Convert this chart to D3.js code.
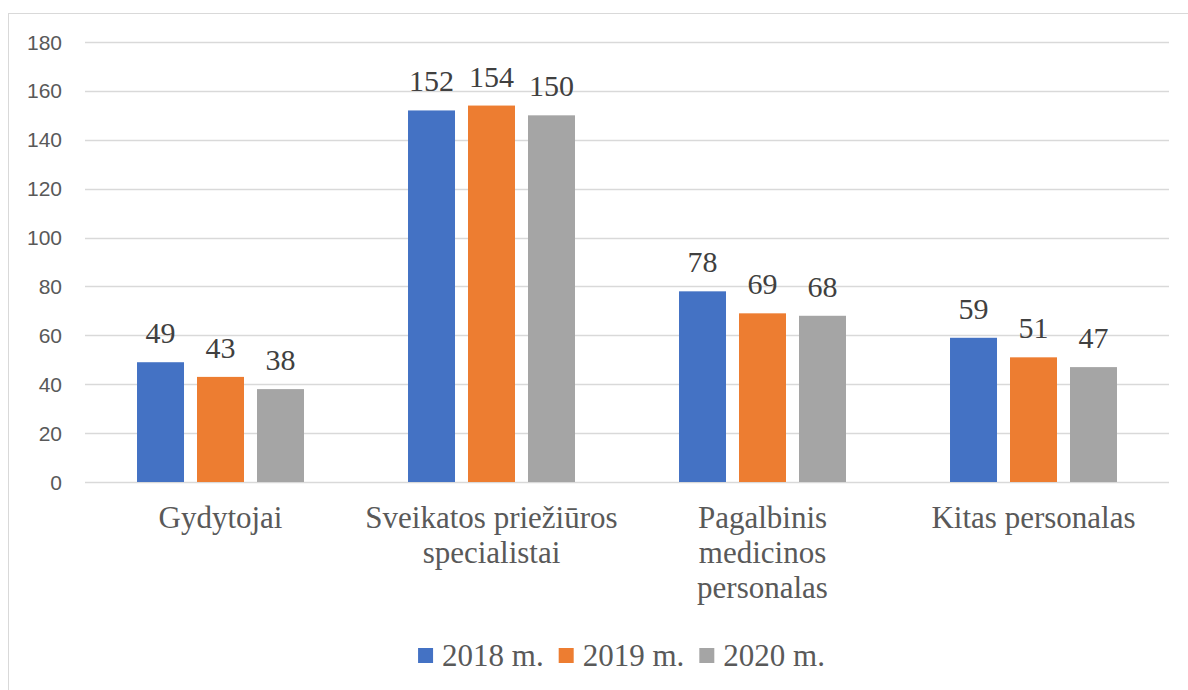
<!DOCTYPE html>
<html>
<head>
<meta charset="utf-8">
<script src="https://cdn.jsdelivr.net/npm/d3@7"></script>
<style>
  body { margin: 0; background: #fff; }
</style>
</head>
<body>
<script>
const categories = ['Gydytojai', 'Sveikatos priežiūros specialistai', 'Pagalbinis medicinos personalas', 'Kitas personalas'],
      categoryLines = [['Gydytojai'], ['Sveikatos priežiūros', 'specialistai'], ['Pagalbinis', 'medicinos', 'personalas'], ['Kitas personalas']];

const seriesNames = ['2018 m.', '2019 m.', '2020 m.'],
      seriesColors = ['#4472c4', '#ed7d31', '#a5a5a5'];

const values2018 = [49, 152, 78, 59],
      values2019 = [43, 154, 69, 51],
      values2020 = [38, 150, 68, 47];

const yTicks = [0, 20, 40, 60, 80, 100, 120, 140, 160, 180];

const width = 1188,
      height = 690;

const serifFont = '"Liberation Serif", "DejaVu Serif", "Times New Roman", serif';

const allValues = [values2018, values2019, values2020];

const svg = d3.select('body')
              .append('svg')
              .attr('width', width)
              .attr('height', height);

// chart frame (right and bottom edges fall outside the picture)
svg.append('rect')
   .attr('x', 8.5)
   .attr('y', 13.5)
   .attr('width', 1200)
   .attr('height', 700)
   .attr('fill', 'none')
   .attr('stroke', '#d9d9d9')
   .attr('stroke-width', 1);

const x0 = d3.scaleBand()
             .domain(categories)
             .range([85, 1169]);

const x1 = d3.scaleBand()
             .domain(seriesNames)
             .range([0, x0.bandwidth()])
             .paddingInner(0.2167)
             .paddingOuter(0.867);

const y = d3.scaleLinear()
            .domain([0, 180])
            .range([482, 42]);

// gridlines
svg.append('g')
   .selectAll('line')
   .data(yTicks)
   .enter()
   .append('line')
   .attr('x1', 85)
   .attr('x2', 1169)
   .attr('y1', function(d) { return Math.round(y(d)) + 0.5; })
   .attr('y2', function(d) { return Math.round(y(d)) + 0.5; })
   .attr('stroke', '#d9d9d9')
   .attr('stroke-width', 1.3);

// y labels
svg.append('g')
   .selectAll('text')
   .data(yTicks)
   .enter()
   .append('text')
   .attr('x', 62)
   .attr('y', function(d) { return y(d); })
   .attr('dy', '0.36em')
   .attr('text-anchor', 'end')
   .attr('fill', '#595959')
   .style('font-family', '"Liberation Sans", Arial, sans-serif')
   .style('font-size', '21px')
   .text(function(d) { return d; });

// bars
const groups = svg.append('g')
                  .selectAll('g')
                  .data(categories)
                  .enter()
                  .append('g')
                  .attr('transform', function(d) { return 'translate(' + x0(d) + ',0)'; });

groups.selectAll('rect')
      .data(function(d, i) {
        return seriesNames.map(function(s, j) { return { series: s, color: seriesColors[j], value: allValues[j][i] }; });
      })
      .enter()
      .append('rect')
      .attr('x', function(d) { return x1(d.series); })
      .attr('y', function(d) { return y(d.value); })
      .attr('width', x1.bandwidth())
      .attr('height', function(d) { return y(0) - y(d.value); })
      .attr('fill', function(d) { return d.color; });

groups.selectAll('text')
      .data(function(d, i) {
        return seriesNames.map(function(s, j) { return { series: s, value: allValues[j][i] }; });
      })
      .enter()
      .append('text')
      .attr('x', function(d) { return x1(d.series) + x1.bandwidth() / 2; })
      .attr('y', function(d) { return y(d.value) - 19; })
      .attr('text-anchor', 'middle')
      .attr('fill', '#404040')
      .style('font-family', serifFont)
      .style('font-size', '30px')
      .text(function(d) { return d.value; });

// category labels
const catLabels = svg.append('g')
                     .selectAll('text')
                     .data(categories)
                     .enter()
                     .append('text')
                     .attr('x', function(d) { return x0(d) + x0.bandwidth() / 2; })
                     .attr('y', 528)
                     .attr('text-anchor', 'middle')
                     .attr('fill', '#595959')
                     .style('font-family', serifFont)
                     .style('font-size', '31px');

catLabels.each(function(d, i) {
  const t = d3.select(this);
  categoryLines[i].forEach(function(line, k) {
    t.append('tspan')
     .attr('x', x0(d) + x0.bandwidth() / 2)
     .attr('y', 528 + k * 35)
     .text(line);
  });
});

// legend
const legend = svg.append('g');
const items = legend.selectAll('g')
                    .data(seriesNames)
                    .enter()
                    .append('g');

items.append('rect')
     .attr('width', 15)
     .attr('height', 15)
     .attr('y', 648)
     .attr('fill', function(d, i) { return seriesColors[i]; });

items.append('text')
     .attr('x', 24)
     .attr('y', 666)
     .attr('fill', '#595959')
     .style('font-family', serifFont)
     .style('font-size', '31px')
     .text(function(d) { return d; });

let offset = 0;
const positions = [];
items.each(function() {
  const w = d3.select(this).select('text').node().getComputedTextLength();
  positions.push(offset);
  offset += 24 + w + 15;
});
const totalWidth = offset - 15;
const legendStart = 621.5 - totalWidth / 2;
items.attr('transform', function(d, i) { return 'translate(' + (legendStart + positions[i]) + ',0)'; });
</script>
</body>
</html>
